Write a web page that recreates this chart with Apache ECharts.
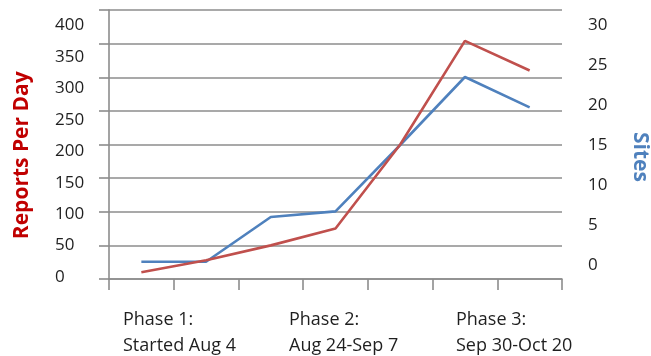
<!DOCTYPE html>
<html>
<head>
<meta charset="utf-8">
<script src="https://cdn.jsdelivr.net/npm/echarts@6/dist/echarts.min.js"></script>
<style>
html,body{margin:0;padding:0;background:#fff;}
#chart{width:651px;height:356px;}
</style>
</head>
<body>
<div id="chart"></div>
<script>
// ---- data ----
const categories = ['1', '2', '3', '4', '5', '6', '7'];
const reportsPerDay = [10, 28, 50, 75, 200, 354, 310];
const sites = [0.4, 0.4, 6, 6.7, 15, 23.5, 19.7];
const phaseLabels = ['Phase 1:\nStarted Aug 4', 'Phase 2:\nAug 24-Sep 7', 'Phase 3:\nSep 30-Oct 20'];
const leftAxis = { min: 0, max: 400, interval: 50, name: 'Reports Per Day' };
const rightAxis = { min: 0, max: 30, interval: 5, name: 'Sites' };

// ---- chart ----
const chart = echarts.init(document.getElementById('chart'), null, { renderer: 'canvas' });
const FONT = '"Open Sans", "DejaVu Sans", sans-serif';
const GRID_GRAY = '#8c8c8c';
const phaseX = [123, 289, 456];

const option = {
  animation: false,
  backgroundColor: '#fff',
  grid: [
    { left: 109, width: 453, top: 10, height: 269, outerBoundsMode: 'none', containLabel: false },
    { left: 109, width: 453, top: 25.5, height: 251.5, outerBoundsMode: 'none', containLabel: false },
    { left: 109, width: 453, top: 25, height: 240, outerBoundsMode: 'none', containLabel: false }
  ],
  xAxis: [
    {
      gridIndex: 0, type: 'category', data: categories, boundaryGap: true,
      axisLine: { show: true, lineStyle: { color: GRID_GRAY, width: 1.6 } },
      axisTick: { show: true, length: 11, lineStyle: { color: GRID_GRAY, width: 1.6 } },
      axisLabel: { show: false }
    },
    { gridIndex: 1, type: 'category', data: categories, boundaryGap: true, show: false },
    { gridIndex: 2, type: 'category', data: categories, boundaryGap: true, show: false }
  ],
  yAxis: [
    {
      gridIndex: 0, type: 'value', position: 'left',
      min: leftAxis.min, max: leftAxis.max, interval: leftAxis.interval,
      axisLine: { show: true, lineStyle: { color: GRID_GRAY, width: 1.6 } },
      axisTick: { show: true, length: 10, lineStyle: { color: GRID_GRAY, width: 1.6 } },
      axisLabel: { show: false },
      splitLine: { show: true, lineStyle: { color: GRID_GRAY, width: 1.6 } }
    },
    {
      gridIndex: 1, type: 'value', position: 'left',
      min: leftAxis.min, max: leftAxis.max, interval: leftAxis.interval,
      axisLine: { show: false }, axisTick: { show: false }, splitLine: { show: false },
      axisLabel: { show: true, align: 'left', margin: 54, color: '#1f1f1f', fontFamily: FONT, fontSize: 17 },
      name: leftAxis.name, nameLocation: 'middle', nameGap: 76, nameRotate: 90,
      nameTextStyle: { color: '#c00000', fontFamily: FONT, fontSize: 21, fontWeight: 'bold', padding: [0, 8, 0, 0] }
    },
    {
      gridIndex: 2, type: 'value', position: 'right',
      min: rightAxis.min, max: rightAxis.max, interval: rightAxis.interval,
      axisLine: { show: false }, axisTick: { show: false }, splitLine: { show: false },
      axisLabel: { show: true, margin: 26, color: '#1f1f1f', fontFamily: FONT, fontSize: 17 },
      name: rightAxis.name, nameLocation: 'middle', nameGap: 67, nameRotate: -90,
      nameTextStyle: { color: '#4f81bd', fontFamily: FONT, fontSize: 21, fontWeight: 'bold', padding: [0, 0, 0, 24] }
    }
  ],
  series: [
    {
      name: 'Sites', type: 'line', xAxisIndex: 2, yAxisIndex: 2, data: sites,
      symbol: 'none', z: 2,
      lineStyle: { color: '#4f81bd', width: 2.6 }
    },
    {
      name: 'Reports Per Day', type: 'line', xAxisIndex: 0, yAxisIndex: 0, data: reportsPerDay,
      symbol: 'none', z: 3,
      lineStyle: { color: '#c0504d', width: 2.6 }
    }
  ],
  graphic: phaseLabels.map((t, i) => ({
    type: 'text', left: phaseX[i], top: 307,
    style: { text: t, fill: '#1f1f1f', font: '18px ' + FONT, lineHeight: 26 }
  }))
};
chart.setOption(option);
</script>
</body>
</html>
